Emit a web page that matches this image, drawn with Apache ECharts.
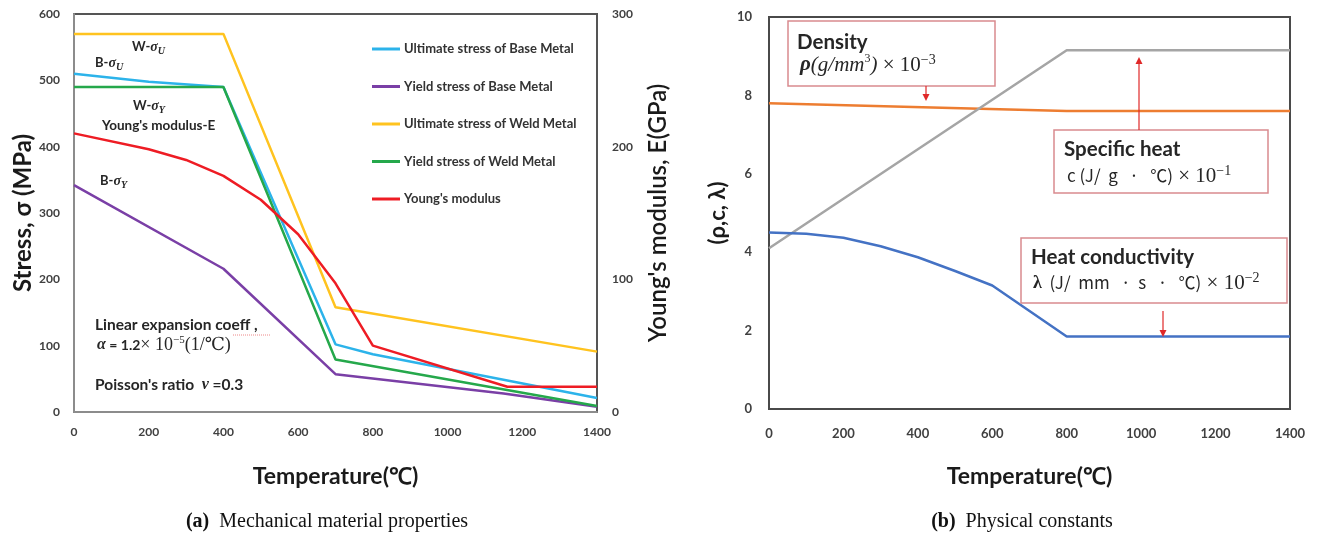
<!DOCTYPE html>
<html><head><meta charset="utf-8">
<script src="https://cdn.jsdelivr.net/npm/echarts@6/dist/echarts.min.js"></script>
<style>html,body{margin:0;padding:0;background:#fff}#c{width:1320px;height:540px}</style>
</head><body><div id="c"></div>
<script>
// ---- Data: (a) Mechanical material properties ----
const xTicksA = [0, 200, 400, 600, 800, 1000, 1200, 1400];
const ubmT = [0, 200, 400, 700, 800, 1400];            // Ultimate stress of Base Metal (MPa)
const ubmV = [510, 498, 490, 102, 87, 21];
const ybmT = [0, 400, 700, 1150, 1400];                // Yield stress of Base Metal (MPa)
const ybmV = [342, 216, 57, 28, 8];
const uwmT = [0, 400, 700, 1400];                      // Ultimate stress of Weld Metal (MPa)
const uwmV = [570, 570, 158, 91];
const ywmT = [0, 400, 700, 1400];                      // Yield stress of Weld Metal (MPa)
const ywmV = [490, 490, 79, 9];
const ymT = [0, 200, 300, 400, 500, 600, 700, 800, 1160, 1400]; // Young's modulus (GPa)
const ymV = [210, 198, 190, 178, 160, 134, 97, 50, 19, 19];
// ---- Data: (b) Physical constants ----
const densT = [0, 800, 1400];   const densV = [7.8, 7.6, 7.6];
const shT = [0, 800, 1400];     const shV = [4.1, 9.15, 9.15];
const hcT = [0, 100, 200, 300, 400, 500, 600, 700, 800, 1400];
const hcV = [4.5, 4.47, 4.37, 4.15, 3.87, 3.52, 3.15, 2.5, 1.85, 1.85];

const names = ['Ultimate stress of Base Metal','Yield stress of Base Metal','Ultimate stress of Weld Metal','Yield stress of Weld Metal',"Young's modulus"];
const zip = (t, v) => t.map((x, i) => [x, v[i]]);
const SANS = 'Lato, "Open Sans", sans-serif';
const SERIF = '"Liberation Serif", "DejaVu Serif", serif';
const KR = '"Noto Sans CJK KR", sans-serif';
const tickLbl = {fontSize: 12, fontWeight: 'bold', color: '#404040', fontFamily: SANS, formatter: v => String(v)};

const chart = echarts.init(document.getElementById('c'));

function txt(x, y, text, style) {
  return {type: 'text', x: x, y: y, z: 100, style: Object.assign({text: text, fill: '#262626', fontFamily: SANS, fontSize: 13, fontWeight: 'bold', align: 'left', verticalAlign: 'middle'}, style || {})};
}
function arrow(x, y1, y2) {
  const d = y2 > y1 ? 1 : -1;
  return [
    {type: 'line', z: 100, shape: {x1: x, y1: y1, x2: x, y2: y2 - d * 6}, style: {stroke: '#e02828', lineWidth: 1.2}},
    {type: 'polygon', z: 100, shape: {points: [[x - 3.5, y2 - d * 7], [x + 3.5, y2 - d * 7], [x, y2]]}, style: {fill: '#e02828'}}
  ];
}
function box(x, y, w, h) {
  return {type: 'rect', z: 90, shape: {x: x, y: y, width: w, height: h}, style: {fill: 'rgba(255,255,255,0)', stroke: '#d98a8f', lineWidth: 1.5}};
}
const subRich = {
  a: {fontSize: 13, fontWeight: 'bold', fontFamily: SANS, fill: '#262626', lineHeight: 18, verticalAlign: 'middle'},
  s: {fontSize: 14, fontStyle: 'italic', fontWeight: 'bold', fontFamily: SERIF, fill: '#262626', lineHeight: 18, verticalAlign: 'middle'},
  u: {fontSize: 10, fontStyle: 'italic', fontWeight: 'bold', fontFamily: SERIF, fill: '#262626', lineHeight: 11, verticalAlign: 'bottom'}
};
const mathRich = {
  x: {fontSize: 21, fontFamily: SERIF, fill: '#262626', lineHeight: 24, verticalAlign: 'middle'},
  p: {fontSize: 14, fontFamily: SERIF, fill: '#262626', lineHeight: 13, verticalAlign: 'top'},
  k: {fontSize: 17, fontFamily: KR, fill: '#262626', lineHeight: 24, verticalAlign: 'middle'},
  l: {fontSize: 18, fontWeight: 'bold', fontFamily: SERIF, fill: '#262626', lineHeight: 24, verticalAlign: 'middle'},
  r: {fontSize: 21, fontStyle: 'italic', fontWeight: 'bold', fontFamily: SERIF, fill: '#262626', lineHeight: 24, verticalAlign: 'middle'},
  m: {fontSize: 21, fontStyle: 'italic', fontFamily: SERIF, fill: '#262626', lineHeight: 24, verticalAlign: 'middle'},
  q: {fontSize: 12, fontFamily: SERIF, fill: '#262626', lineHeight: 16, verticalAlign: 'top'}
};

const graphics = [
  txt(132, 47, '{a|W-}{s|σ}{u|U}', {rich: subRich}),
  txt(95, 63, '{a|B-}{s|σ}{u|U}', {rich: subRich}),
  txt(133, 106, '{a|W-}{s|σ}{u|Y}', {rich: subRich}),
  txt(102, 126, "Young's modulus-E", {fontSize: 13.5}),
  txt(100, 181, '{a|B-}{s|σ}{u|Y}', {rich: subRich}),
  txt(95, 325, 'Linear expansion coeff ,', {fontSize: 15.5}),
  {type: 'line', z: 100, shape: {x1: 233, y1: 335, x2: 270, y2: 335}, style: {stroke: '#e88', lineWidth: 1, lineDash: [1, 1]}},
  txt(97, 345, '{a|α}{b| = 1.2}{x|× 10}{p|−5}{x|(1/℃)}', {rich: {
    a: {fontSize: 16, fontStyle: 'italic', fontWeight: 'bold', fontFamily: SERIF, fill: '#262626', lineHeight: 20, verticalAlign: 'middle'},
    b: {fontSize: 14, fontWeight: 'bold', fontFamily: SANS, fill: '#262626', lineHeight: 20, verticalAlign: 'middle'},
    x: {fontSize: 18, fontFamily: SERIF, fill: '#262626', lineHeight: 20, verticalAlign: 'middle'},
    p: {fontSize: 11, fontFamily: SERIF, fill: '#262626', lineHeight: 12, verticalAlign: 'top'}}}),
  txt(95, 385, "{b|Poisson's ratio  }{n|ν}{b| =0.3}", {rich: {
    b: {fontSize: 15.5, fontWeight: 'bold', fontFamily: SANS, fill: '#262626'},
    n: {fontSize: 16, fontStyle: 'italic', fontWeight: 'bold', fontFamily: SERIF, fill: '#262626'}}}),
  // captions
  txt(327, 522, '{b|(a)}{n|  Mechanical material properties}', {align: 'center', rich: {
    b: {fontSize: 20, fontWeight: 'bold', fontFamily: SERIF, fill: '#111'},
    n: {fontSize: 20, fontFamily: SERIF, fill: '#111'}}}),
  txt(1022, 522, '{b|(b)}{n|  Physical constants}', {align: 'center', rich: {
    b: {fontSize: 20, fontWeight: 'bold', fontFamily: SERIF, fill: '#111'},
    n: {fontSize: 20, fontFamily: SERIF, fill: '#111'}}}),
  // right chart annotation boxes
  box(788, 21, 207, 65),
  txt(797, 42, 'Density', {fontSize: 20.5}),
  txt(800, 65, '{r|ρ}{m|(g/mm}{q|3}{m|)}{x| × 10}{p|−3}', {rich: mathRich}),
  box(1054, 130, 214, 63),
  txt(1064, 149, 'Specific heat', {fontSize: 20.5}),
  txt(1067, 176, '{k|c (J/  g   ·   ℃)}{x| × 10}{p|−1}', {rich: mathRich}),
  box(1021, 238, 266, 65),
  txt(1031, 257, 'Heat conductivity', {fontSize: 20.5}),
  txt(1033, 283, '{l|λ}{k|  (J/  mm   ·  s   ·   ℃)}{x| × 10}{p|−2}', {rich: mathRich})
].concat(arrow(926, 86, 101), arrow(1139, 130, 57), arrow(1163, 311, 337));

const baseX = {
  type: 'value', min: 0, max: 1400, interval: 200,
  axisLine: {show: true, lineStyle: {color: '#8c8c8c', width: 2}}, axisTick: {show: false}, splitLine: {show: false},
  nameLocation: 'middle', name: 'Temperature(℃)',
  nameTextStyle: {fontSize: 23, fontWeight: 'bold', color: '#1a1a1a', fontFamily: SANS}
};

const option = {
  animation: false,
  backgroundColor: '#fff',
  graphic: graphics,
  grid: [
    {left: 74, top: 14, width: 523, height: 398, show: true, borderColor: '#555', borderWidth: 2, backgroundColor: 'transparent'},
    {left: 769, top: 17, width: 521, height: 392, show: true, borderColor: '#4a4a4a', borderWidth: 2, backgroundColor: 'transparent'}
  ],
  legend: {
    data: names, orient: 'vertical', left: 372, top: 42, padding: 0, itemWidth: 28, itemHeight: 3, icon: 'rect', itemGap: 23.5,
    textStyle: {fontSize: 13, fontWeight: 'bold', color: '#333', fontFamily: SANS, lineHeight: 14, padding: [0, 0, 0, -1]}
  },
  xAxis: [
    Object.assign({}, baseX, {gridIndex: 0, nameGap: 53, axisLabel: Object.assign({margin: 14}, tickLbl)}),
    Object.assign({}, baseX, {gridIndex: 1, nameGap: 56, axisLine: {show: true, lineStyle: {color: '#4a4a4a', width: 2}}, axisLabel: Object.assign({margin: 18}, tickLbl, {fontSize: 13})})
  ],
  yAxis: [
    {gridIndex: 0, type: 'value', min: 0, max: 600, interval: 100, position: 'left',
      axisLine: {show: true, lineStyle: {color: '#8c8c8c', width: 2}}, axisTick: {show: false}, splitLine: {show: false},
      axisLabel: Object.assign({margin: 14}, tickLbl),
      name: 'Stress, σ (MPa)', nameLocation: 'middle', nameGap: 38,
      nameTextStyle: {fontSize: 24, fontWeight: 'bold', color: '#1a1a1a', fontFamily: SANS}},
    {gridIndex: 0, type: 'value', min: 0, max: 300, interval: 100, position: 'right',
      axisLine: {show: false}, axisTick: {show: false}, splitLine: {show: false},
      axisLabel: Object.assign({margin: 15}, tickLbl),
      name: "Young's modulus, E(GPa)", nameLocation: 'middle', nameGap: 49,
      nameTextStyle: {fontSize: 24, fontWeight: 600, color: '#1a1a1a', fontFamily: SANS}},
    {gridIndex: 1, type: 'value', min: 0, max: 10, interval: 2,
      axisLine: {show: true, lineStyle: {color: '#4a4a4a', width: 2}}, axisTick: {show: false}, splitLine: {show: false},
      axisLabel: Object.assign({margin: 17}, tickLbl, {fontSize: 13}),
      name: '(ρ,c, λ)', nameLocation: 'middle', nameGap: 40,
      nameTextStyle: {fontSize: 22, fontWeight: 'bold', color: '#1a1a1a', fontFamily: SANS}}
  ],
  series: [
    {name: names[0], type: 'line', xAxisIndex: 0, yAxisIndex: 0, symbol: 'none', data: zip(ubmT, ubmV), color: '#2cb3ea', lineStyle: {width: 2.5}},
    {name: names[1], type: 'line', xAxisIndex: 0, yAxisIndex: 0, symbol: 'none', data: zip(ybmT, ybmV), color: '#7a3fa6', lineStyle: {width: 2.5}},
    {name: names[2], type: 'line', xAxisIndex: 0, yAxisIndex: 0, symbol: 'none', data: zip(uwmT, uwmV), color: '#ffc31f', lineStyle: {width: 2.5}},
    {name: names[3], type: 'line', xAxisIndex: 0, yAxisIndex: 0, symbol: 'none', data: zip(ywmT, ywmV), color: '#25a84b', lineStyle: {width: 2.5}},
    {name: names[4], type: 'line', xAxisIndex: 0, yAxisIndex: 1, symbol: 'none', data: zip(ymT, ymV), color: '#ee1c24', lineStyle: {width: 2.5}},
    {name: 'Density', type: 'line', xAxisIndex: 1, yAxisIndex: 2, symbol: 'none', data: zip(densT, densV), color: '#ed7d31', lineStyle: {width: 2.5}},
    {name: 'Specific heat', type: 'line', xAxisIndex: 1, yAxisIndex: 2, symbol: 'none', data: zip(shT, shV), color: '#a5a5a5', lineStyle: {width: 2.5}},
    {name: 'Heat conductivity', type: 'line', xAxisIndex: 1, yAxisIndex: 2, symbol: 'none', data: zip(hcT, hcV), color: '#4472c4', lineStyle: {width: 2.5}}
  ]
};
chart.setOption(option);
</script>
</body></html>
